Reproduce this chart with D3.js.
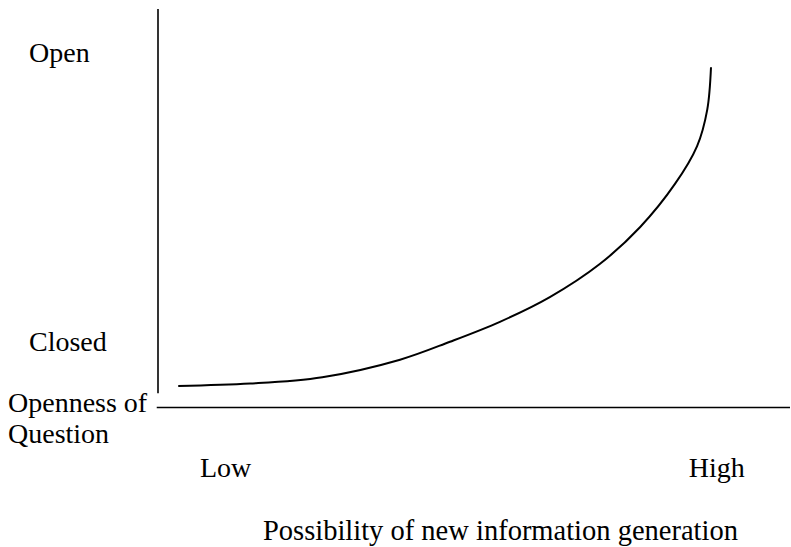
<!DOCTYPE html>
<html>
<head>
<meta charset="utf-8">
<script src="https://cdn.jsdelivr.net/npm/d3@7"></script>
<style>
  html, body { margin: 0; padding: 0; background: #fff; }
  svg text { font-family: "Liberation Serif", "DejaVu Serif", serif; fill: #000; }
</style>
</head>
<body>
<svg id="chart" width="791" height="547"></svg>
<script>
// Data (normalized units 0..100)
const curveX = [3.2, 14.6, 26.0, 38.3, 46.2, 54.1, 62.0, 69.9, 76.3, 81.8, 85.3, 86.9, 87.5];
const curveY = [5.4, 6.0, 7.6, 12.0, 16.5, 21.5, 27.7, 36.0, 45.3, 56.1, 65.6, 74.7, 85.4];
const yTickLabels = ["Open", "Closed"];
const yTickValues = [89, 16.5];
const xTickLabels = ["Low", "High"];
const xTickValues = [10.7, 88.4];
const yAxisTitle = ["Openness of", "Question"];
const xAxisTitle = "Possibility of new information generation";

const svg = d3.select("#chart");
const x = d3.scaleLinear().domain([0, 100]).range([158, 790]);
const y = d3.scaleLinear().domain([0, 100]).range([407.5, 9]);

// Axes lines
svg.append("line")
  .attr("x1", x(0)).attr("x2", x(0))
  .attr("y1", y(3.6)).attr("y2", y(100))
  .attr("stroke", "#000").attr("stroke-width", 1.6);
svg.append("line")
  .attr("x1", x(-0.2)).attr("x2", x(100))
  .attr("y1", y(0)).attr("y2", y(0))
  .attr("stroke", "#000").attr("stroke-width", 1.6);

// Curve
const pts = curveX.map((v, i) => [v, curveY[i]]);
const line = d3.line().x(d => x(d[0])).y(d => y(d[1])).curve(d3.curveCatmullRom.alpha(0.5));
svg.append("path").datum(pts)
  .attr("d", line)
  .attr("fill", "none").attr("stroke", "#000").attr("stroke-width", 2);

const fs = 28;
// Y tick labels
svg.selectAll(".ylab").data(yTickLabels).enter().append("text")
  .attr("x", 29).attr("y", (d, i) => y(yTickValues[i]))
  .attr("dominant-baseline", "central")
  .attr("font-size", fs).text(d => d);

// X tick labels
svg.selectAll(".xlab").data(xTickLabels).enter().append("text")
  .attr("x", (d, i) => x(xTickValues[i])).attr("y", 477)
  .attr("text-anchor", "middle")
  .attr("font-size", fs).text(d => d);

// Y axis title
svg.selectAll(".ytitle").data(yAxisTitle).enter().append("text")
  .attr("x", 8).attr("y", (d, i) => 412 + i * 31)
  .attr("font-size", fs).text(d => d);

// X axis title
svg.append("text")
  .attr("x", 263).attr("y", 540)
  .attr("font-size", 28.5).text(xAxisTitle);
</script>
</body>
</html>
